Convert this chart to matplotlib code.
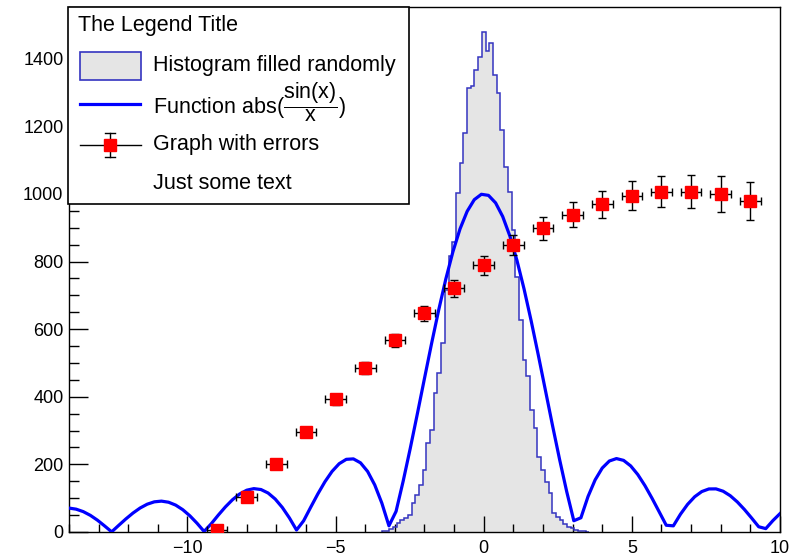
import numpy as np
import matplotlib
matplotlib.use("Agg")
import matplotlib.pyplot as plt
from matplotlib.patches import Rectangle
from matplotlib.lines import Line2D
from matplotlib.ticker import MultipleLocator

plt.rcParams['font.family'] = ['Liberation Sans', 'DejaVu Sans']
plt.rcParams['mathtext.fontset'] = 'custom'
plt.rcParams['mathtext.rm'] = 'Liberation Sans'
plt.rcParams['mathtext.it'] = 'Liberation Sans'

# histogram, bin width 0.125, first bin starts at -3.4375
hist_lo = -3.4375
hist_width = 0.125
hist_counts = [4, 4, 8, 16, 28, 36, 40, 50, 85, 110,
               140, 183, 263, 302, 411, 470, 560, 716, 815, 859,
               1002, 1091, 1180, 1313, 1318, 1367, 1405, 1479, 1424, 1446,
               1352, 1298, 1190, 1081, 1007, 894, 755, 627, 509, 460,
               361, 307, 223, 183, 149, 115, 56, 45, 35, 25,
               15, 12, 6, 4, 2, 1]

# graph with errors
graph_x = [-9, -8, -7, -6, -5, -4, -3, -2, -1, 0, 1, 2, 3, 4, 5, 6, 7, 8, 9]
graph_y = [5, 104, 202, 297, 392, 484, 567, 647, 721, 789,
           849, 899, 938, 970, 994, 1006, 1006, 1000, 979]
graph_ex = [0.35] * 19
graph_ey = [0, 8, 12, 14, 16, 18, 20, 22, 25, 28,
            31, 34, 37, 40, 43, 46, 49, 52, 55]

# function 1000*abs(sin(x)/x), 100 steps like ROOT's npx
func_x = np.linspace(-14, 10, 101)
func_y = 1000 * np.abs(np.sin(func_x) / func_x)

HIST_EDGE = '#3434c0'
HIST_FILL = '#e5e5e5'
FUNC_COL = '#0000ff'

fig = plt.figure(figsize=(8.03, 5.56), dpi=100)
ax = fig.add_axes([69 / 803, 24 / 556, 711 / 803, 525 / 556])

edges = hist_lo + hist_width * np.arange(len(hist_counts) + 1)
ax.stairs(hist_counts, edges, fill=True, color=HIST_FILL, zorder=1)
ax.stairs(hist_counts, edges, color=HIST_EDGE, lw=1.1, zorder=2)

ax.plot(func_x, func_y, color=FUNC_COL, lw=2.3, zorder=3)

ax.errorbar(graph_x, graph_y, xerr=graph_ex, yerr=graph_ey, fmt='s',
            color='red', ms=8, mec='red', ecolor='black', elinewidth=1,
            capsize=3, capthick=1, zorder=4)

ax.set_xlim(-14, 10)
ax.set_ylim(0, 1.05 * max(hist_counts))

ax.xaxis.set_major_locator(MultipleLocator(5))
ax.xaxis.set_minor_locator(MultipleLocator(1))
ax.yaxis.set_major_locator(MultipleLocator(200))
ax.yaxis.set_minor_locator(MultipleLocator(50))
ax.tick_params(axis='both', which='both', direction='in', top=False,
               right=False, labelsize=13, width=1)
ax.tick_params(axis='x', which='major', length=11.5, pad=6)
ax.tick_params(axis='x', which='minor', length=6)
ax.tick_params(axis='y', which='major', length=14, pad=4)
ax.tick_params(axis='y', which='minor', length=7)
for s in ax.spines.values():
    s.set_linewidth(1)


# legend drawn by hand in pixel coordinates of the figure
def px(x, y):
    return (x / 803, 1 - y / 556)


fs = 15.5
x0, y0 = px(68, 204)
x1, y1 = px(409, 7)
fig.add_artist(Rectangle((x0, y0), x1 - x0, y1 - y0, transform=fig.transFigure,
                         facecolor='white', edgecolor='black', lw=1.2, zorder=5))
fig.text(*px(78, 25), "The Legend Title", fontsize=fs, va='center', ha='left', zorder=6)

hx, hy = px(80, 80)
hx1, hy1 = px(141, 52)
fig.add_artist(Rectangle((hx, hy), hx1 - hx, hy1 - hy, transform=fig.transFigure,
                         facecolor=HIST_FILL, edgecolor=HIST_EDGE, lw=1.2, zorder=6))
fig.text(*px(153, 66), "Histogram filled randomly", fontsize=fs, va='center', zorder=6)

lx0, ly = px(80, 104)
lx1, _ = px(140, 104)
fig.add_artist(Line2D([lx0, lx1], [ly, ly], transform=fig.transFigure,
                      color=FUNC_COL, lw=2.3, zorder=6))
fig.text(*px(153, 113), r"Function abs($\dfrac{\mathregular{sin(x)}}{\mathregular{x}}$)",
         fontsize=fs, va='baseline', zorder=6)

gx0, gy = px(80, 145)
gx1, _ = px(141, 145)
gxc, _ = px(110, 145)
_, gyt = px(110, 133)
_, gyb = px(110, 157)
fig.add_artist(Line2D([gx0, gx1], [gy, gy], transform=fig.transFigure,
                      color='black', lw=1, zorder=6))
fig.add_artist(Line2D([gxc, gxc], [gyb, gyt], transform=fig.transFigure,
                      color='black', lw=1, zorder=6))
cw = 5 / 803
for yy in (gyt, gyb):
    fig.add_artist(Line2D([gxc - cw, gxc + cw], [yy, yy], transform=fig.transFigure,
                          color='black', lw=1, zorder=6))
fig.add_artist(Line2D([gxc], [gy], transform=fig.transFigure, marker='s',
                      ms=8, color='red', lw=0, zorder=7))
fig.text(*px(153, 145), "Graph with errors", fontsize=fs, va='center', zorder=6)
fig.text(*px(153, 184), "Just some text", fontsize=fs, va='center', zorder=6)

fig.savefig("out.png", dpi=100)
